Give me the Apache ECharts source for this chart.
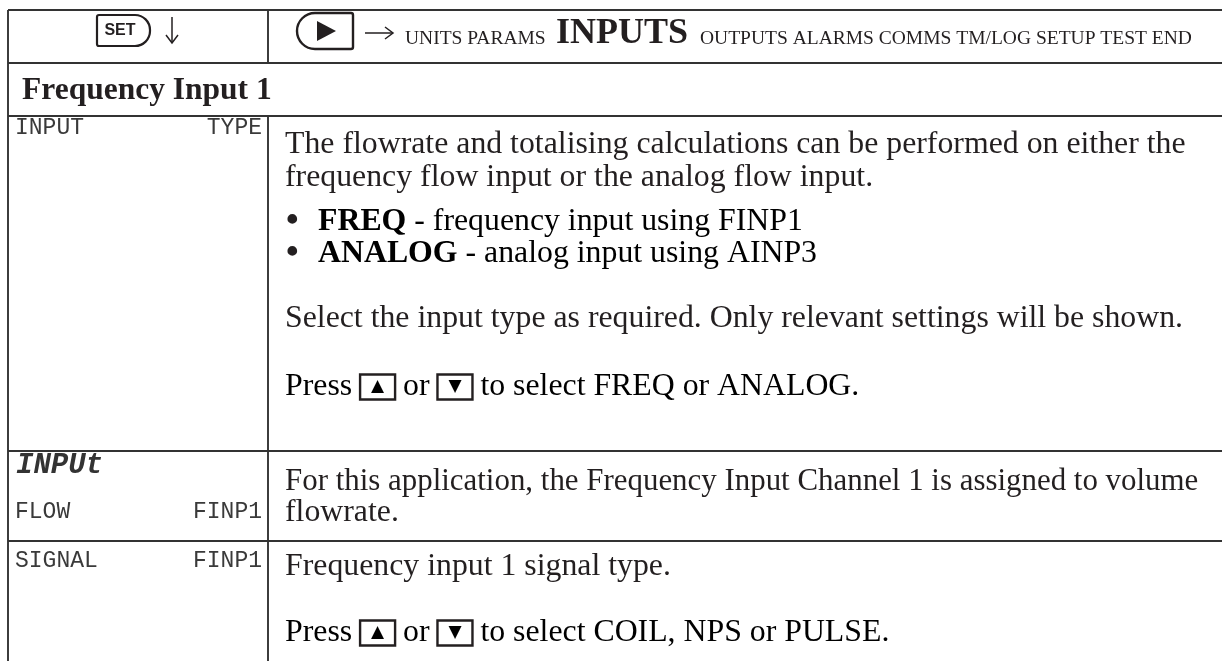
<!DOCTYPE html>
<html>
<head>
<meta charset="utf-8">
<script src="https://cdn.jsdelivr.net/npm/echarts@6/dist/echarts.min.js"></script>
<style>
html,body{margin:0;padding:0;background:#fff;}
#main{width:1222px;height:661px;}
</style>
</head>
<body>
<div id="main"></div>
<script>
// ---- content ----
const setKeyLabel = 'SET';
const navBefore = ['UNITS', 'PARAMS'];
const navActive = 'INPUTS';
const navAfter = ['OUTPUTS', 'ALARMS', 'COMMS', 'TM/LOG', 'SETUP', 'TEST', 'END'];
const sectionTitle = 'Frequency Input 1';
const rowLabels = [['INPUT', 'TYPE'], ['FLOW', 'FINP1'], ['SIGNAL', 'FINP1']];
const displayWord = 'INPUt';
const inputTypeIntro = [
  'The flowrate and totalising calculations can be performed on either the',
  'frequency flow input or the analog flow input.'
];
const inputTypeOptions = [
  ['FREQ', 'frequency input using FINP1'],
  ['ANALOG', 'analog input using AINP3']
];
const inputTypeNote = 'Select the input type as required. Only relevant settings will be shown.';
const inputTypeChoices = 'FREQ or ANALOG.';
const flowText = [
  'For this application, the Frequency Input Channel 1 is assigned to volume',
  'flowrate.'
];
const signalText = 'Frequency input 1 signal type.';
const signalChoices = 'COIL, NPS or PULSE.';

// ---- styling ----
const INK = '#231f20';
const LINE = '#333';
const SERIF = '"Liberation Serif", "Times New Roman", serif';
const LCD = '"Liberation Mono", "DejaVu Sans Mono", monospace';
const BODY = 31.8;

const chart = echarts.init(document.getElementById('main'), null, {renderer: 'canvas'});
const g = [];

function line(x1, y1, x2, y2, w, c) {
  g.push({type: 'line', shape: {x1, y1, x2, y2}, style: {stroke: c || LINE, lineWidth: w || 1.9}, silent: true});
}
function poly(points, w) {
  g.push({type: 'polyline', shape: {points}, style: {stroke: INK, lineWidth: w || 1.6, fill: null}, silent: true});
}
function text(x, y, str, opt, extra) {
  g.push(Object.assign({type: 'text', x, y, silent: true, style: Object.assign({
    text: str, fill: INK, fontFamily: SERIF, fontSize: BODY,
    align: 'left', verticalAlign: 'middle'
  }, opt || {})}, extra || {}));
}
const boxRich = {
  t: {fontFamily: SERIF, fontSize: BODY, color: INK},
  b: {fontFamily: SERIF, fontSize: BODY, color: INK, fontWeight: 'bold'},
  k: {fontFamily: '"DejaVu Sans", sans-serif', fontSize: 17, color: INK,
      borderColor: INK, borderWidth: 2.4, width: 35, height: 25, lineHeight: 25, align: 'center', verticalAlign: 'middle'}
};
function rich(x, y, str) {
  g.push({type: 'text', x, y, silent: true, style: {text: str, rich: boxRich, align: 'left', verticalAlign: 'middle'}});
}

// ---- table grid ----
const X0 = 8, XD = 268, XR = 1230;
const Y = [10, 63, 116, 451, 541];
Y.forEach(y => line(X0, y, XR, y));
line(X0, Y[0], X0, 661);
line(XD, Y[0], XD, Y[1]);
line(XD, Y[2], XD, 661);

// ---- header row ----
g.push({type: 'rect', shape: {x: 97, y: 15, width: 53, height: 31, r: [2, 15, 15, 2]},
  style: {fill: '#fff', stroke: INK, lineWidth: 2.2}, silent: true});
text(120, 31, setKeyLabel, {fontFamily: '"Liberation Sans", Arial, sans-serif', fontSize: 16, fontWeight: 'bold', align: 'center'});
// down arrow
line(172, 17, 172, 43, 1.5, INK);
poly([[166, 35], [172, 43], [178, 35]], 1.5);

g.push({type: 'rect', shape: {x: 297, y: 13, width: 56, height: 36, r: [18, 2, 2, 18]},
  style: {fill: '#fff', stroke: INK, lineWidth: 2.4}, silent: true});
g.push({type: 'polygon', shape: {points: [[317, 21], [317, 41], [336, 31]]}, style: {fill: INK}, silent: true});
// right arrow
line(365, 33, 393, 33, 1.5, INK);
poly([[385, 27], [393, 33], [385, 39]], 1.5);

text(405, 39, navBefore.join(' '), {fontSize: 19.5});
text(556, 34, navActive, {fontSize: 36, fontWeight: 'bold'});
text(700, 39, navAfter.join(' '), {fontSize: 19.5});

// ---- section title ----
text(22, 91, sectionTitle, {fontSize: 31.5, fontWeight: 'bold'});

// ---- left labels (display style) ----
const lcd = {fontFamily: LCD, fontSize: 23, fill: '#3a3a3a'};
text(15, 128, rowLabels[0][0], lcd);
text(262, 128, rowLabels[0][1], Object.assign({align: 'right'}, lcd));
text(16, 466, displayWord, {fontFamily: LCD, fontSize: 29, fontWeight: 'bold', fontStyle: 'italic', fill: '#333'});
text(15, 512, rowLabels[1][0], lcd);
text(262, 512, rowLabels[1][1], Object.assign({align: 'right'}, lcd));
text(15, 561, rowLabels[2][0], lcd);
text(262, 561, rowLabels[2][1], Object.assign({align: 'right'}, lcd));

// ---- INPUT TYPE description ----
const TX = 285;
text(TX, 145, inputTypeIntro[0]);
text(TX, 178, inputTypeIntro[1]);
inputTypeOptions.forEach((o, i) => {
  const y = 222 + i * 32;
  text(TX + 1, y, '\u2022', {fontSize: 36, fontWeight: 'bold'});
  rich(TX + 33, y, '{b|' + o[0] + '}{t| - ' + o[1] + '}');
});
text(TX, 319, inputTypeNote);
rich(TX, 387, '{t|Press }{k|\u25B2}{t| or }{k|\u25BC}{t| to select ' + inputTypeChoices + '}');

// ---- INPUT FLOW description ----
text(TX, 482, flowText[0], null, {scaleX: 0.972});
text(TX, 513, flowText[1]);

// ---- SIGNAL description ----
text(TX, 567, signalText);
rich(TX, 633, '{t|Press }{k|\u25B2}{t| or }{k|\u25BC}{t| to select ' + signalChoices + '}');

chart.setOption({animation: false, graphic: {elements: g}});
</script>
</body>
</html>
